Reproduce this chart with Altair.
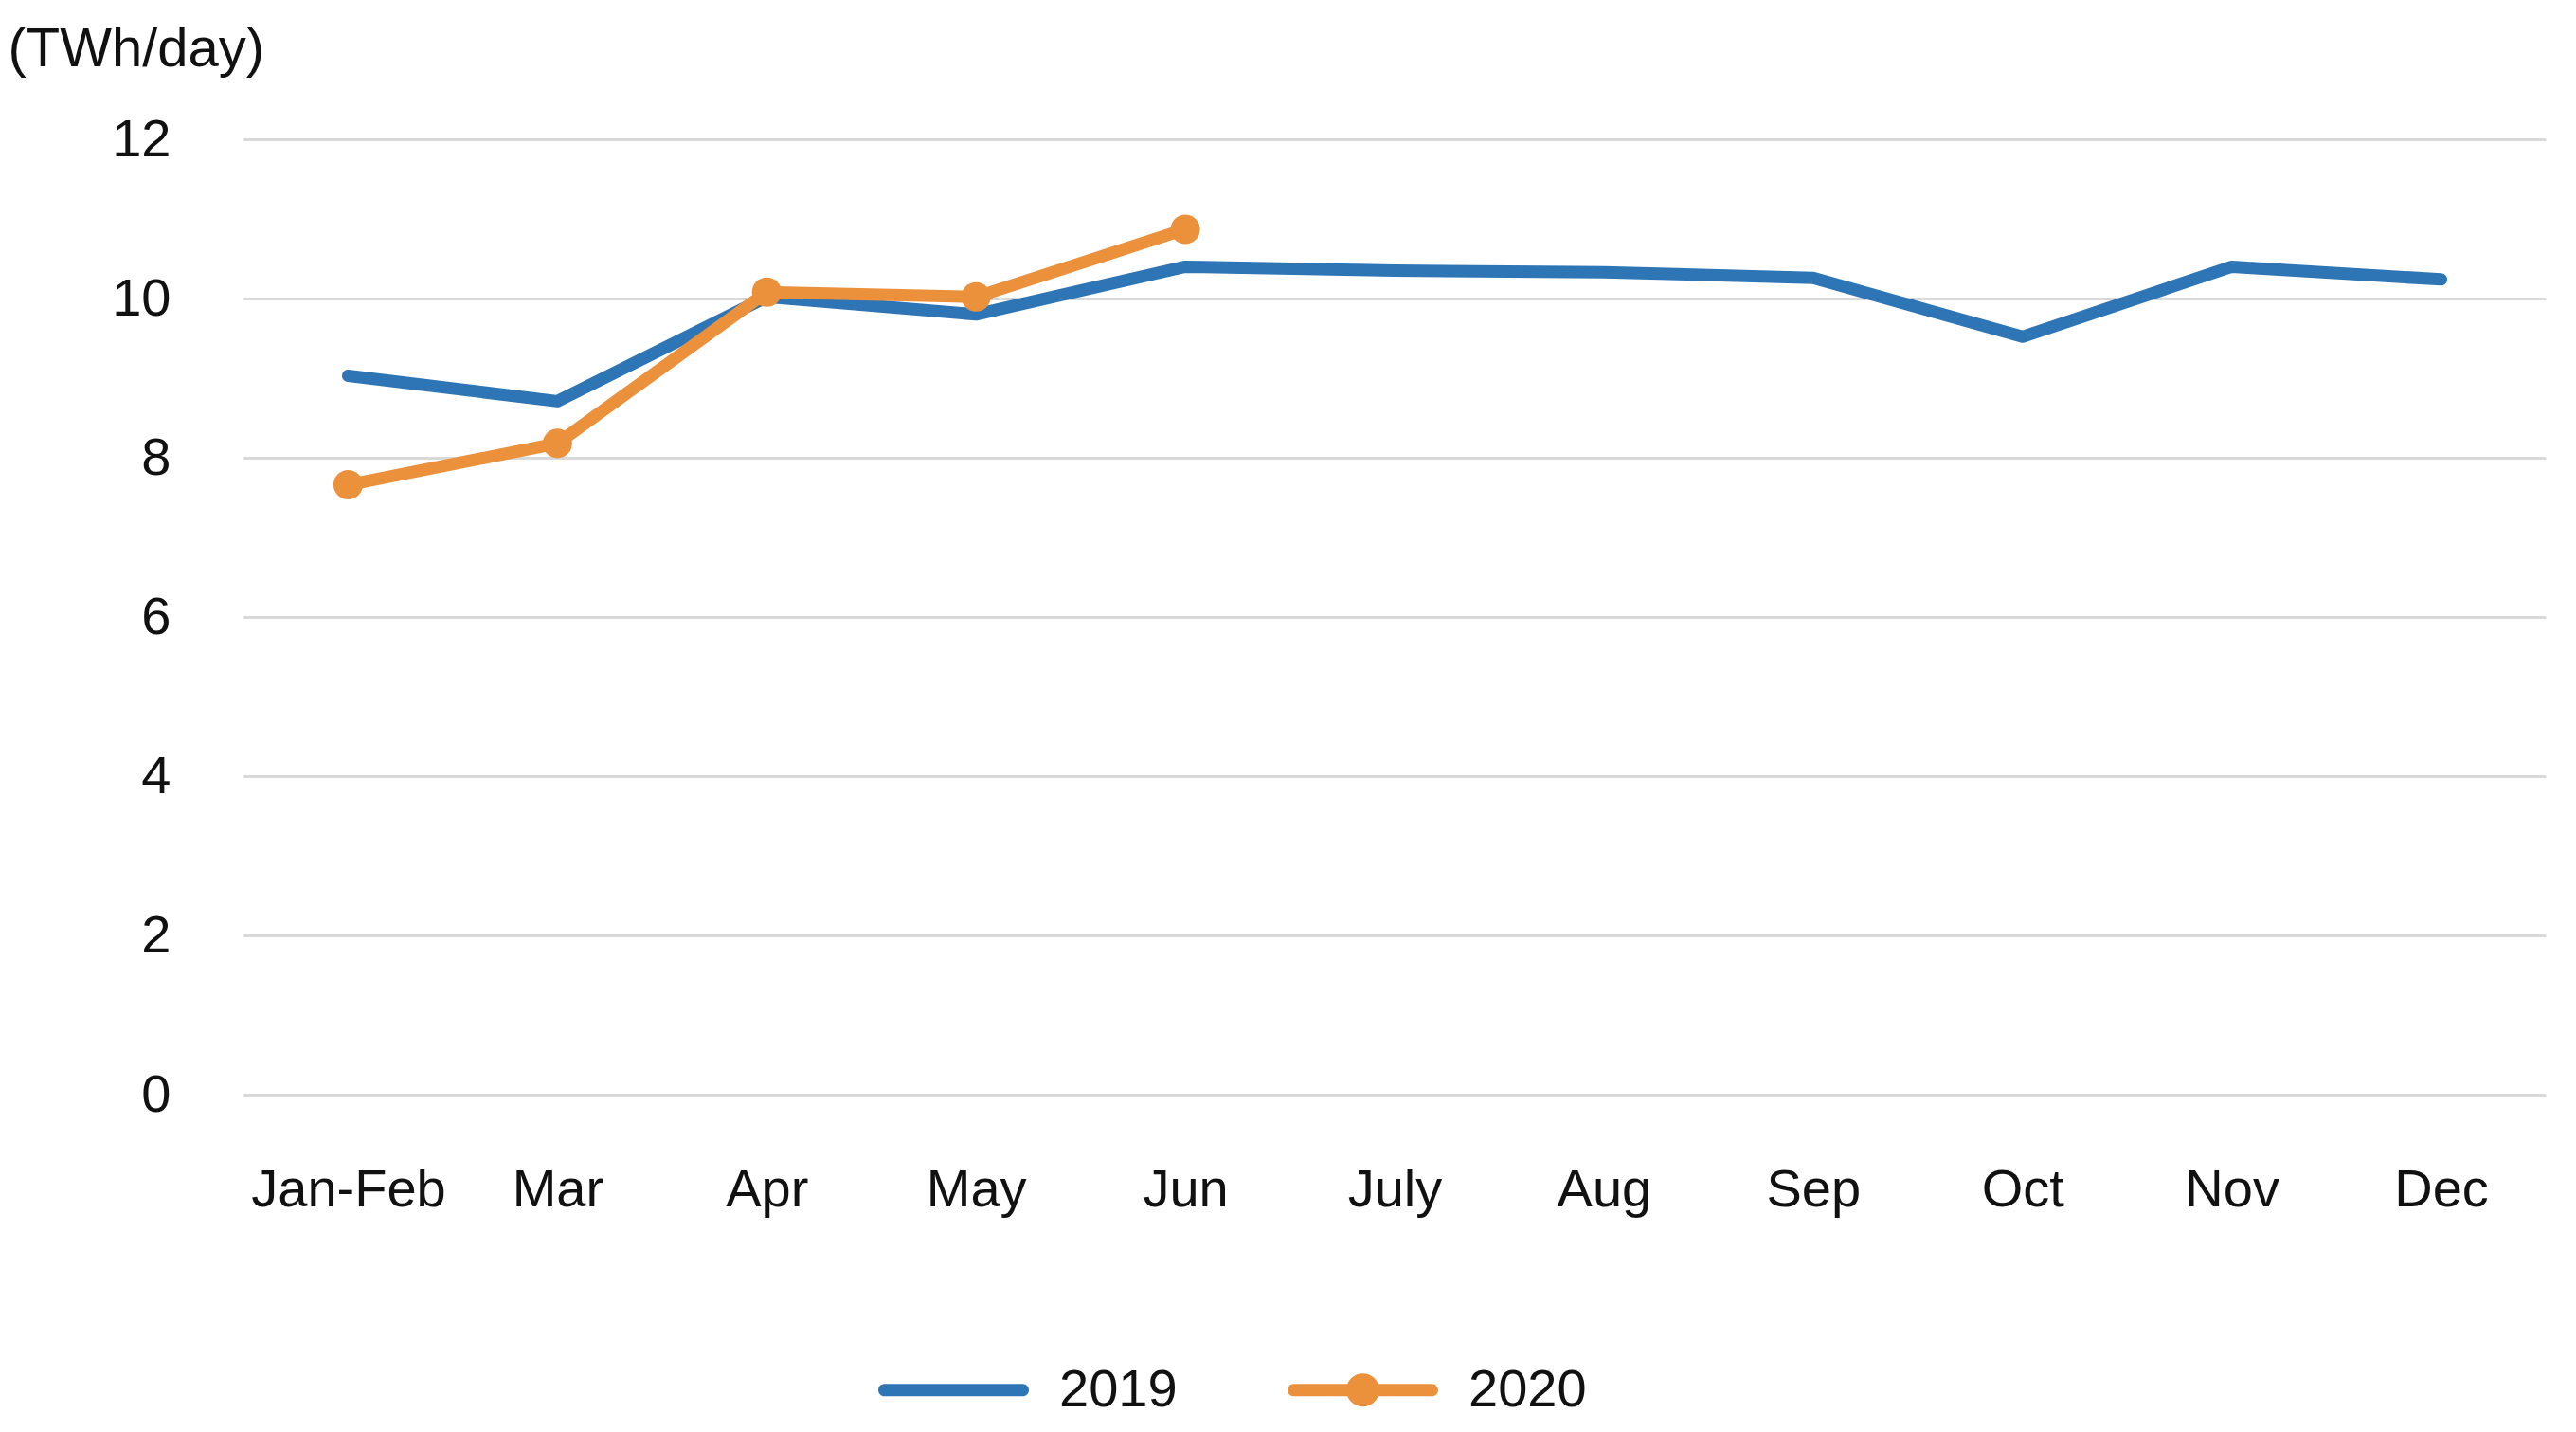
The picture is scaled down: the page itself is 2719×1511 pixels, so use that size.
import altair as alt
import pandas as pd

months = ["Jan-Feb", "Mar", "Apr", "May", "Jun", "July", "Aug", "Sep", "Oct", "Nov", "Dec"]
values_2019 = [9.03, 8.71, 10.02, 9.80, 10.40, 10.35, 10.33, 10.26, 9.52, 10.40, 10.24]
values_2020 = [7.66, 8.18, 10.08, 10.02, 10.87]
years = ["2019", "2020"]
y_ticks = [0, 2, 4, 6, 8, 10, 12]
colors = ["#2E75B6", "#EB913C"]

rows = []
for m, v in zip(months, values_2019):
    rows.append({"month": m, "value": v, "year": "2019"})
for m, v in zip(months, values_2020):
    rows.append({"month": m, "value": v, "year": "2020"})
df = pd.DataFrame(rows)

FONT = "Liberation Sans"
color_scale = alt.Scale(domain=years, range=colors)

x_enc = alt.X("month:N", sort=months,
              scale=alt.Scale(type="point", padding=0.5),
              axis=alt.Axis(title=None, labelAngle=0, domain=False, ticks=False, tickSize=0,
                            labelPadding=73, labelFontSize=56, labelFont=FONT,
                            labelLimit=0, labelColor="#111111", grid=False))
y_enc = alt.Y("value:Q", scale=alt.Scale(domain=[0, 12], nice=False, zero=True),
              axis=alt.Axis(values=y_ticks, domain=False, ticks=False, tickSize=0,
                            labelPadding=77, labelFontSize=56, labelFont=FONT,
                            labelColor="#111111", grid=True, gridColor="#D9D9D9",
                            gridWidth=3,
                            title="(TWh/day)", titleAngle=0, titleAlign="left",
                            titleBaseline="alphabetic", titleX=-249, titleY=-78,
                            titleFontSize=58, titleFont=FONT, titleFontWeight="normal",
                            titleColor="#111111"))

path_line = "M-0.918,-0.082L0.918,-0.082A0.082,0.082 0 0 1 0.918,0.082L-0.918,0.082A0.082,0.082 0 0 1 -0.918,-0.082Z"
path_marker = path_line + "M0.22,0A0.22,0.22 0 1 1 -0.22,0A0.22,0.22 0 1 1 0.22,0Z"

leg = alt.Legend(title=None, orient="none", direction="horizontal",
                 legendX=670, legendY=1240, padding=0,
                 symbolSize=25281, symbolStrokeWidth=0,
                 symbolOpacity=1, labelOffset=32,
                 columnPadding=116, labelFontSize=56,
                 labelFont=FONT, labelColor="#111111", labelLimit=0)

# invisible layer that only carries the legend (placed first so its legend wins the merge)
legend_layer = alt.Chart(df).mark_point(filled=True, opacity=0).encode(
    x=x_enc, y=y_enc,
    color=alt.Color("year:N", scale=color_scale, legend=leg),
    shape=alt.Shape("year:N", scale=alt.Scale(domain=years, range=[path_line, path_marker]),
                    legend=leg),
)

lines = alt.Chart(df).mark_line(strokeWidth=13, strokeCap="round", strokeJoin="round").encode(
    x=x_enc, y=y_enc,
    color=alt.Color("year:N", scale=color_scale, legend=None),
    detail="year:N",
)

points = alt.Chart(df).transform_filter(alt.datum.year == "2020").mark_circle(
    size=962, opacity=1).encode(
    x=x_enc, y=y_enc,
    color=alt.Color("year:N", scale=color_scale, legend=None),
)

chart = alt.layer(legend_layer, lines, points).properties(
    width=2430, height=1008,
    autosize=alt.AutoSizeParams(type="none"),
    padding={"left": 249, "top": 139, "right": 10, "bottom": 348},
).configure(background="white").configure_view(stroke=None)

chart.save("out.html", embed_options={"renderer": "svg", "actions": False})
